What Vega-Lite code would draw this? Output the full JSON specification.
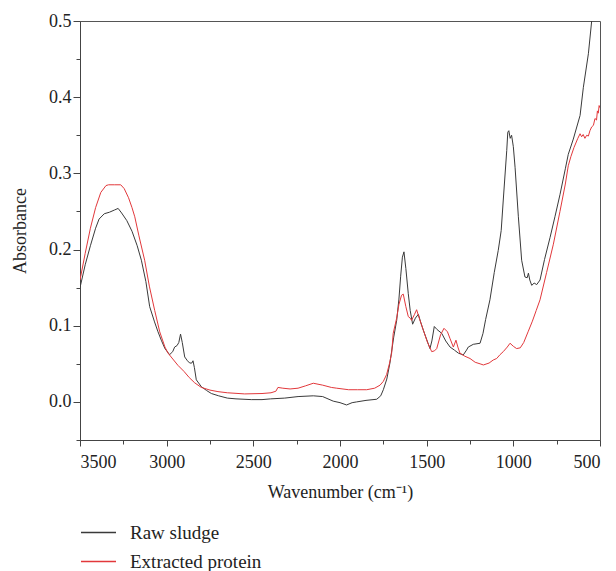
{
  "$schema": "https://vega.github.io/schema/vega-lite/v6.json",
  "width": 520,
  "height": 419,
  "autosize": "none",
  "padding": {"left": 80, "top": 21, "right": 16, "bottom": 131},
  "background": "white",
  "config": {
    "font": "Liberation Serif",
    "view": {"stroke": "#555", "strokeWidth": 1},
    "axis": {
      "grid": false,
      "labelFont": "Liberation Serif",
      "labelFontSize": 18,
      "labelColor": "#222",
      "titleFont": "Liberation Serif",
      "titleFontSize": 18,
      "titleFontWeight": "normal",
      "titleColor": "#222",
      "domainColor": "#444",
      "tickColor": "#444"
    },
    "legend": {"labelFont": "Liberation Serif"}
  },
  "data": {
    "values": [
      {"s": "Raw sludge", "wn": 3500, "a": 0.150},
      {"s": "Raw sludge", "wn": 3470, "a": 0.180},
      {"s": "Raw sludge", "wn": 3440, "a": 0.205},
      {"s": "Raw sludge", "wn": 3410, "a": 0.228},
      {"s": "Raw sludge", "wn": 3390, "a": 0.240},
      {"s": "Raw sludge", "wn": 3360, "a": 0.247},
      {"s": "Raw sludge", "wn": 3330, "a": 0.249},
      {"s": "Raw sludge", "wn": 3300, "a": 0.252},
      {"s": "Raw sludge", "wn": 3280, "a": 0.254},
      {"s": "Raw sludge", "wn": 3260, "a": 0.248},
      {"s": "Raw sludge", "wn": 3230, "a": 0.238},
      {"s": "Raw sludge", "wn": 3200, "a": 0.224},
      {"s": "Raw sludge", "wn": 3170, "a": 0.205},
      {"s": "Raw sludge", "wn": 3146, "a": 0.186},
      {"s": "Raw sludge", "wn": 3120, "a": 0.158},
      {"s": "Raw sludge", "wn": 3098, "a": 0.125},
      {"s": "Raw sludge", "wn": 3070, "a": 0.105},
      {"s": "Raw sludge", "wn": 3050, "a": 0.092},
      {"s": "Raw sludge", "wn": 3031, "a": 0.081},
      {"s": "Raw sludge", "wn": 3010, "a": 0.070},
      {"s": "Raw sludge", "wn": 2983, "a": 0.062},
      {"s": "Raw sludge", "wn": 2965, "a": 0.066},
      {"s": "Raw sludge", "wn": 2954, "a": 0.072},
      {"s": "Raw sludge", "wn": 2940, "a": 0.074},
      {"s": "Raw sludge", "wn": 2930, "a": 0.078},
      {"s": "Raw sludge", "wn": 2920, "a": 0.089},
      {"s": "Raw sludge", "wn": 2910, "a": 0.078},
      {"s": "Raw sludge", "wn": 2896, "a": 0.059},
      {"s": "Raw sludge", "wn": 2880, "a": 0.054},
      {"s": "Raw sludge", "wn": 2867, "a": 0.051},
      {"s": "Raw sludge", "wn": 2855, "a": 0.051},
      {"s": "Raw sludge", "wn": 2848, "a": 0.054},
      {"s": "Raw sludge", "wn": 2840, "a": 0.045},
      {"s": "Raw sludge", "wn": 2829, "a": 0.029},
      {"s": "Raw sludge", "wn": 2800, "a": 0.020},
      {"s": "Raw sludge", "wn": 2770, "a": 0.015},
      {"s": "Raw sludge", "wn": 2742, "a": 0.011},
      {"s": "Raw sludge", "wn": 2700, "a": 0.008},
      {"s": "Raw sludge", "wn": 2650, "a": 0.005},
      {"s": "Raw sludge", "wn": 2600, "a": 0.004},
      {"s": "Raw sludge", "wn": 2512, "a": 0.003},
      {"s": "Raw sludge", "wn": 2450, "a": 0.003},
      {"s": "Raw sludge", "wn": 2400, "a": 0.004},
      {"s": "Raw sludge", "wn": 2319, "a": 0.005},
      {"s": "Raw sludge", "wn": 2242, "a": 0.007},
      {"s": "Raw sludge", "wn": 2154, "a": 0.008},
      {"s": "Raw sludge", "wn": 2100, "a": 0.007},
      {"s": "Raw sludge", "wn": 2039, "a": 0.001},
      {"s": "Raw sludge", "wn": 2000, "a": -0.001},
      {"s": "Raw sludge", "wn": 1962, "a": -0.004},
      {"s": "Raw sludge", "wn": 1930, "a": -0.001},
      {"s": "Raw sludge", "wn": 1904, "a": 0.000},
      {"s": "Raw sludge", "wn": 1850, "a": 0.002},
      {"s": "Raw sludge", "wn": 1788, "a": 0.0035},
      {"s": "Raw sludge", "wn": 1765, "a": 0.008},
      {"s": "Raw sludge", "wn": 1750, "a": 0.016},
      {"s": "Raw sludge", "wn": 1730, "a": 0.030},
      {"s": "Raw sludge", "wn": 1712, "a": 0.051},
      {"s": "Raw sludge", "wn": 1690, "a": 0.085},
      {"s": "Raw sludge", "wn": 1673, "a": 0.107},
      {"s": "Raw sludge", "wn": 1660, "a": 0.135},
      {"s": "Raw sludge", "wn": 1650, "a": 0.165},
      {"s": "Raw sludge", "wn": 1640, "a": 0.190},
      {"s": "Raw sludge", "wn": 1631, "a": 0.197},
      {"s": "Raw sludge", "wn": 1620, "a": 0.175},
      {"s": "Raw sludge", "wn": 1606, "a": 0.142},
      {"s": "Raw sludge", "wn": 1595, "a": 0.120},
      {"s": "Raw sludge", "wn": 1581, "a": 0.102},
      {"s": "Raw sludge", "wn": 1565, "a": 0.110},
      {"s": "Raw sludge", "wn": 1548, "a": 0.115},
      {"s": "Raw sludge", "wn": 1535, "a": 0.105},
      {"s": "Raw sludge", "wn": 1519, "a": 0.094},
      {"s": "Raw sludge", "wn": 1500, "a": 0.082},
      {"s": "Raw sludge", "wn": 1481, "a": 0.070},
      {"s": "Raw sludge", "wn": 1470, "a": 0.080},
      {"s": "Raw sludge", "wn": 1456, "a": 0.099},
      {"s": "Raw sludge", "wn": 1440, "a": 0.095},
      {"s": "Raw sludge", "wn": 1413, "a": 0.090},
      {"s": "Raw sludge", "wn": 1390, "a": 0.080},
      {"s": "Raw sludge", "wn": 1365, "a": 0.072},
      {"s": "Raw sludge", "wn": 1340, "a": 0.068},
      {"s": "Raw sludge", "wn": 1317, "a": 0.064},
      {"s": "Raw sludge", "wn": 1289, "a": 0.0616},
      {"s": "Raw sludge", "wn": 1270, "a": 0.068},
      {"s": "Raw sludge", "wn": 1260, "a": 0.072},
      {"s": "Raw sludge", "wn": 1231, "a": 0.0756},
      {"s": "Raw sludge", "wn": 1192, "a": 0.077},
      {"s": "Raw sludge", "wn": 1175, "a": 0.090},
      {"s": "Raw sludge", "wn": 1160, "a": 0.108},
      {"s": "Raw sludge", "wn": 1135, "a": 0.134},
      {"s": "Raw sludge", "wn": 1110, "a": 0.170},
      {"s": "Raw sludge", "wn": 1087, "a": 0.199},
      {"s": "Raw sludge", "wn": 1070, "a": 0.225},
      {"s": "Raw sludge", "wn": 1058, "a": 0.265},
      {"s": "Raw sludge", "wn": 1038, "a": 0.330},
      {"s": "Raw sludge", "wn": 1032, "a": 0.354},
      {"s": "Raw sludge", "wn": 1026, "a": 0.356},
      {"s": "Raw sludge", "wn": 1018, "a": 0.346},
      {"s": "Raw sludge", "wn": 1010, "a": 0.350},
      {"s": "Raw sludge", "wn": 1000, "a": 0.335},
      {"s": "Raw sludge", "wn": 990, "a": 0.308},
      {"s": "Raw sludge", "wn": 971, "a": 0.243},
      {"s": "Raw sludge", "wn": 952, "a": 0.186},
      {"s": "Raw sludge", "wn": 933, "a": 0.164},
      {"s": "Raw sludge", "wn": 920, "a": 0.163},
      {"s": "Raw sludge", "wn": 913, "a": 0.169},
      {"s": "Raw sludge", "wn": 905, "a": 0.160},
      {"s": "Raw sludge", "wn": 894, "a": 0.153},
      {"s": "Raw sludge", "wn": 880, "a": 0.156},
      {"s": "Raw sludge", "wn": 865, "a": 0.154},
      {"s": "Raw sludge", "wn": 846, "a": 0.160},
      {"s": "Raw sludge", "wn": 820, "a": 0.187},
      {"s": "Raw sludge", "wn": 788, "a": 0.216},
      {"s": "Raw sludge", "wn": 760, "a": 0.243},
      {"s": "Raw sludge", "wn": 731, "a": 0.272},
      {"s": "Raw sludge", "wn": 700, "a": 0.306},
      {"s": "Raw sludge", "wn": 683, "a": 0.325},
      {"s": "Raw sludge", "wn": 654, "a": 0.345},
      {"s": "Raw sludge", "wn": 615, "a": 0.376},
      {"s": "Raw sludge", "wn": 596, "a": 0.413},
      {"s": "Raw sludge", "wn": 567, "a": 0.457},
      {"s": "Raw sludge", "wn": 548, "a": 0.500},
      {"s": "Raw sludge", "wn": 520, "a": 0.540},
      {"s": "Raw sludge", "wn": 500, "a": 0.570},
      {"s": "Extracted protein", "wn": 3500, "a": 0.160},
      {"s": "Extracted protein", "wn": 3470, "a": 0.195},
      {"s": "Extracted protein", "wn": 3440, "a": 0.228},
      {"s": "Extracted protein", "wn": 3410, "a": 0.255},
      {"s": "Extracted protein", "wn": 3380, "a": 0.275},
      {"s": "Extracted protein", "wn": 3350, "a": 0.284},
      {"s": "Extracted protein", "wn": 3335, "a": 0.285},
      {"s": "Extracted protein", "wn": 3300, "a": 0.285},
      {"s": "Extracted protein", "wn": 3265, "a": 0.285},
      {"s": "Extracted protein", "wn": 3245, "a": 0.280},
      {"s": "Extracted protein", "wn": 3220, "a": 0.268},
      {"s": "Extracted protein", "wn": 3200, "a": 0.255},
      {"s": "Extracted protein", "wn": 3184, "a": 0.243},
      {"s": "Extracted protein", "wn": 3160, "a": 0.218},
      {"s": "Extracted protein", "wn": 3127, "a": 0.186},
      {"s": "Extracted protein", "wn": 3100, "a": 0.152},
      {"s": "Extracted protein", "wn": 3069, "a": 0.120},
      {"s": "Extracted protein", "wn": 3040, "a": 0.092},
      {"s": "Extracted protein", "wn": 3010, "a": 0.072},
      {"s": "Extracted protein", "wn": 2992, "a": 0.064},
      {"s": "Extracted protein", "wn": 2960, "a": 0.055},
      {"s": "Extracted protein", "wn": 2935, "a": 0.048},
      {"s": "Extracted protein", "wn": 2900, "a": 0.040},
      {"s": "Extracted protein", "wn": 2870, "a": 0.032},
      {"s": "Extracted protein", "wn": 2838, "a": 0.025},
      {"s": "Extracted protein", "wn": 2800, "a": 0.019},
      {"s": "Extracted protein", "wn": 2750, "a": 0.0155},
      {"s": "Extracted protein", "wn": 2704, "a": 0.0135},
      {"s": "Extracted protein", "wn": 2650, "a": 0.012},
      {"s": "Extracted protein", "wn": 2550, "a": 0.0105},
      {"s": "Extracted protein", "wn": 2450, "a": 0.011},
      {"s": "Extracted protein", "wn": 2398, "a": 0.012},
      {"s": "Extracted protein", "wn": 2370, "a": 0.014},
      {"s": "Extracted protein", "wn": 2358, "a": 0.019},
      {"s": "Extracted protein", "wn": 2330, "a": 0.018},
      {"s": "Extracted protein", "wn": 2288, "a": 0.017},
      {"s": "Extracted protein", "wn": 2242, "a": 0.018},
      {"s": "Extracted protein", "wn": 2200, "a": 0.021},
      {"s": "Extracted protein", "wn": 2154, "a": 0.0245},
      {"s": "Extracted protein", "wn": 2100, "a": 0.022},
      {"s": "Extracted protein", "wn": 2050, "a": 0.019},
      {"s": "Extracted protein", "wn": 2019, "a": 0.018},
      {"s": "Extracted protein", "wn": 1950, "a": 0.016},
      {"s": "Extracted protein", "wn": 1900, "a": 0.016},
      {"s": "Extracted protein", "wn": 1846, "a": 0.016},
      {"s": "Extracted protein", "wn": 1800, "a": 0.018},
      {"s": "Extracted protein", "wn": 1769, "a": 0.022},
      {"s": "Extracted protein", "wn": 1750, "a": 0.027},
      {"s": "Extracted protein", "wn": 1731, "a": 0.036},
      {"s": "Extracted protein", "wn": 1715, "a": 0.050},
      {"s": "Extracted protein", "wn": 1702, "a": 0.064},
      {"s": "Extracted protein", "wn": 1693, "a": 0.090},
      {"s": "Extracted protein", "wn": 1673, "a": 0.110},
      {"s": "Extracted protein", "wn": 1660, "a": 0.128},
      {"s": "Extracted protein", "wn": 1645, "a": 0.140},
      {"s": "Extracted protein", "wn": 1635, "a": 0.1415},
      {"s": "Extracted protein", "wn": 1620, "a": 0.125},
      {"s": "Extracted protein", "wn": 1606, "a": 0.112},
      {"s": "Extracted protein", "wn": 1595, "a": 0.110},
      {"s": "Extracted protein", "wn": 1587, "a": 0.107},
      {"s": "Extracted protein", "wn": 1570, "a": 0.115},
      {"s": "Extracted protein", "wn": 1558, "a": 0.121},
      {"s": "Extracted protein", "wn": 1540, "a": 0.108},
      {"s": "Extracted protein", "wn": 1519, "a": 0.094},
      {"s": "Extracted protein", "wn": 1495, "a": 0.078},
      {"s": "Extracted protein", "wn": 1471, "a": 0.066},
      {"s": "Extracted protein", "wn": 1455, "a": 0.067},
      {"s": "Extracted protein", "wn": 1442, "a": 0.070},
      {"s": "Extracted protein", "wn": 1420, "a": 0.088},
      {"s": "Extracted protein", "wn": 1400, "a": 0.0966},
      {"s": "Extracted protein", "wn": 1380, "a": 0.092},
      {"s": "Extracted protein", "wn": 1365, "a": 0.083},
      {"s": "Extracted protein", "wn": 1346, "a": 0.072},
      {"s": "Extracted protein", "wn": 1331, "a": 0.081},
      {"s": "Extracted protein", "wn": 1320, "a": 0.072},
      {"s": "Extracted protein", "wn": 1308, "a": 0.064},
      {"s": "Extracted protein", "wn": 1280, "a": 0.060},
      {"s": "Extracted protein", "wn": 1250, "a": 0.057},
      {"s": "Extracted protein", "wn": 1220, "a": 0.052},
      {"s": "Extracted protein", "wn": 1192, "a": 0.050},
      {"s": "Extracted protein", "wn": 1173, "a": 0.0485},
      {"s": "Extracted protein", "wn": 1140, "a": 0.051},
      {"s": "Extracted protein", "wn": 1116, "a": 0.055},
      {"s": "Extracted protein", "wn": 1096, "a": 0.057},
      {"s": "Extracted protein", "wn": 1077, "a": 0.062},
      {"s": "Extracted protein", "wn": 1058, "a": 0.066},
      {"s": "Extracted protein", "wn": 1035, "a": 0.072},
      {"s": "Extracted protein", "wn": 1019, "a": 0.077},
      {"s": "Extracted protein", "wn": 1000, "a": 0.073},
      {"s": "Extracted protein", "wn": 981, "a": 0.070},
      {"s": "Extracted protein", "wn": 960, "a": 0.071},
      {"s": "Extracted protein", "wn": 940, "a": 0.078},
      {"s": "Extracted protein", "wn": 915, "a": 0.092},
      {"s": "Extracted protein", "wn": 890, "a": 0.106},
      {"s": "Extracted protein", "wn": 868, "a": 0.120},
      {"s": "Extracted protein", "wn": 846, "a": 0.134},
      {"s": "Extracted protein", "wn": 808, "a": 0.170},
      {"s": "Extracted protein", "wn": 769, "a": 0.207},
      {"s": "Extracted protein", "wn": 731, "a": 0.250},
      {"s": "Extracted protein", "wn": 700, "a": 0.286},
      {"s": "Extracted protein", "wn": 683, "a": 0.310},
      {"s": "Extracted protein", "wn": 668, "a": 0.322},
      {"s": "Extracted protein", "wn": 650, "a": 0.334},
      {"s": "Extracted protein", "wn": 628, "a": 0.346},
      {"s": "Extracted protein", "wn": 615, "a": 0.352},
      {"s": "Extracted protein", "wn": 606, "a": 0.348},
      {"s": "Extracted protein", "wn": 597, "a": 0.351},
      {"s": "Extracted protein", "wn": 587, "a": 0.346},
      {"s": "Extracted protein", "wn": 577, "a": 0.350},
      {"s": "Extracted protein", "wn": 567, "a": 0.349},
      {"s": "Extracted protein", "wn": 558, "a": 0.356},
      {"s": "Extracted protein", "wn": 548, "a": 0.361},
      {"s": "Extracted protein", "wn": 538, "a": 0.363},
      {"s": "Extracted protein", "wn": 529, "a": 0.372},
      {"s": "Extracted protein", "wn": 520, "a": 0.370},
      {"s": "Extracted protein", "wn": 515, "a": 0.382},
      {"s": "Extracted protein", "wn": 510, "a": 0.379},
      {"s": "Extracted protein", "wn": 505, "a": 0.389},
      {"s": "Extracted protein", "wn": 500, "a": 0.386}
    ]
  },
  "layer": [
    {
      "transform": [{"filter": "datum.s === 'Raw sludge'"}],
      "mark": {"type": "line", "strokeWidth": 1, "clip": true},
      "encoding": {
        "x": {
          "field": "wn", "type": "quantitative",
          "scale": {"domain": [500, 3500], "reverse": true, "nice": false, "zero": false},
          "axis": {"values": [3500, 3000, 2500, 2000, 1500, 1000, 500], "format": "d", "tickSize": 6, "labelPadding": 7, "labelFont": "Liberation Serif", "titleFont": "Liberation Serif", "title": "Wavenumber (cm⁻¹)", "titlePadding": 12}
        },
        "y": {
          "field": "a", "type": "quantitative",
          "scale": {"domain": [-0.05, 0.5], "nice": false, "zero": false},
          "axis": {"values": [0, 0.1, 0.2, 0.3, 0.4, 0.5], "format": ".1f", "tickSize": 7, "labelPadding": 2, "labelFont": "Liberation Serif", "titleFont": "Liberation Serif", "title": "Absorbance", "titlePadding": 19}
        },
        "color": {
          "field": "s", "type": "nominal",
          "scale": {"domain": ["Raw sludge", "Extracted protein"], "range": ["#3a3a3a", "#e2383b"]},
          "legend": {"orient": "none", "legendX": 0, "legendY": 493, "title": null, "direction": "vertical", "symbolType": "stroke", "symbolSize": 1225, "symbolStrokeWidth": 1.5, "labelFont": "Liberation Serif", "labelFontSize": 19, "labelColor": "#222", "labelOffset": 13, "rowPadding": 0}
        }
      }
    },
    {
      "transform": [{"filter": "datum.s === 'Extracted protein'"}],
      "mark": {"type": "line", "strokeWidth": 1, "clip": true},
      "encoding": {
        "x": {
          "field": "wn", "type": "quantitative",
          "axis": {"orient": "bottom", "values": [3250, 2750, 2250, 1750, 1250, 750], "tickSize": 4, "labels": false, "domain": false, "title": null}
        },
        "y": {
          "field": "a", "type": "quantitative",
          "axis": {"orient": "left", "values": [-0.05, 0.05, 0.15, 0.25, 0.35, 0.45], "tickSize": 4, "labels": false, "domain": false, "title": null}
        },
        "color": {"field": "s", "type": "nominal"}
      }
    }
  ],
  "resolve": {"axis": {"x": "independent", "y": "independent"}}
}
